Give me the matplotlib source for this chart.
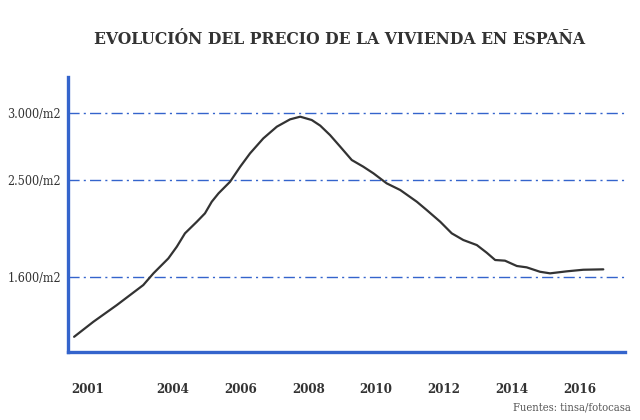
import matplotlib
matplotlib.use("Agg")
import matplotlib.pyplot as plt

# --- data
years = [2001.09, 2001.66, 2002.35, 2003.13, 2003.43, 2003.87, 2004.12, 2004.36,
         2004.71, 2004.95, 2005.15, 2005.35, 2005.69, 2005.99, 2006.28, 2006.67,
         2007.07, 2007.46, 2007.76, 2008.10, 2008.35, 2008.64, 2008.94, 2009.28,
         2009.62, 2009.92, 2010.31, 2010.71, 2011.20, 2011.49, 2011.89, 2012.23,
         2012.57, 2012.97, 2013.26, 2013.51, 2013.80, 2014.15, 2014.44, 2014.83,
         2015.13, 2015.62, 2016.11, 2016.70]
price = [1324, 1437, 1562, 1712, 1800, 1912, 2000, 2100,
         2187, 2250, 2337, 2400, 2487, 2600, 2700, 2812,
         2900, 2955, 2975, 2950, 2908, 2837, 2750, 2650,
         2600, 2550, 2475, 2425, 2337, 2275, 2187, 2100,
         2050, 2012, 1955, 1900, 1895, 1855, 1845, 1812,
         1800, 1815, 1827, 1830]

# gridline positions on the drawn scale and the labels the chart shows
grid_vals = [1770, 2500, 3000]
grid_labels = ["1.600/m2", "2.500/m2", "3.000/m2"]
year_ticks = [2001, 2004, 2006, 2008, 2010, 2012, 2014, 2016]

BLUE = "#3464cc"
DARK = "#333333"
serif = "DejaVu Serif"

fig = plt.figure(figsize=(6.4, 4.2), dpi=100)
ax = fig.add_axes([0.10625, 0.1619, 0.8703, 0.6555])

ax.plot(years, price, color=DARK, lw=1.6, solid_capstyle="round",
        solid_joinstyle="round")

for v in grid_vals:
    ax.axhline(v, color=BLUE, lw=1.0, ls=(0, (8, 3, 1.5, 3)), zorder=0)

ax.set_xlim(2000.91, 2017.34)
ax.set_ylim(1210, 3275)

for s in ["top", "right"]:
    ax.spines[s].set_visible(False)
for s in ["left", "bottom"]:
    ax.spines[s].set_color(BLUE)
    ax.spines[s].set_linewidth(2.4)

ax.set_yticks(grid_vals)
ax.set_yticklabels(grid_labels, family=serif, fontsize=9, color=DARK,
                   stretch="condensed")
ax.set_xticks(year_ticks)
ax.set_xticklabels([str(y) for y in year_ticks], family=serif, fontsize=9.5,
                   color=DARK, fontweight="bold", stretch="condensed")
ax.get_xticklabels()[0].set_horizontalalignment("left")
ax.tick_params(axis="both", length=0)
ax.tick_params(axis="x", pad=22)
ax.tick_params(axis="y", pad=5)

fig.text(0.531, 0.905, "EVOLUCIÓN DEL PRECIO DE LA VIVIENDA EN ESPAÑA",
         ha="center", va="center", family=serif, fontsize=12.5, color=DARK,
         fontweight="bold", stretch="condensed")
fig.text(0.985, 0.03, "Fuentes: tinsa/fotocasa", ha="right", va="center",
         family=serif, fontsize=8, color="#555555", stretch="condensed")

fig.savefig("out.png", dpi=100, facecolor="white")
